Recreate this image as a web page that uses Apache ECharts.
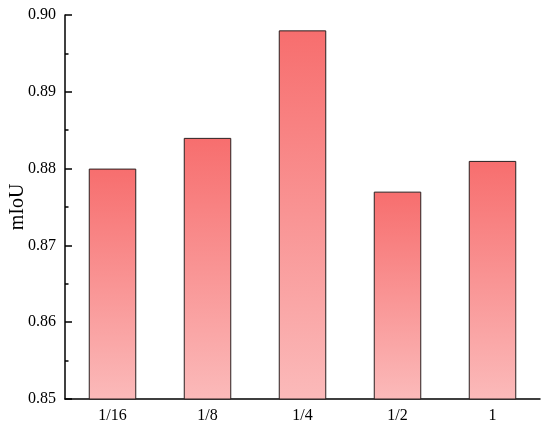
<!DOCTYPE html>
<html><head><meta charset="utf-8">
<script src="https://cdn.jsdelivr.net/npm/echarts@6/dist/echarts.min.js"></script>
<style>html,body{margin:0;padding:0;background:#fff}#c{width:550px;height:430px}</style>
</head><body><div id="c"></div>
<script>
const categories = ['1/16', '1/8', '1/4', '1/2', '1'];
const mIoU = [0.880, 0.884, 0.898, 0.877, 0.881];
const yTicks = [0.85, 0.86, 0.87, 0.88, 0.89, 0.90];

const chart = echarts.init(document.getElementById('c'), null, {renderer: 'canvas'});
const font = '"Liberation Serif", "Times New Roman", serif';
const yMin = yTicks[0], yMax = yTicks[yTicks.length - 1];
chart.setOption({
  animation: false,
  grid: {left: 65, right: 10, top: 15, bottom: 31, containLabel: false, outerBoundsMode: 'none'},
  xAxis: {
    type: 'category',
    data: categories,
    axisLine: {lineStyle: {color: '#000', width: 1.5}},
    axisTick: {show: false},
    axisLabel: {color: '#000', fontFamily: font, fontSize: 16, margin: 9}
  },
  yAxis: [{
    type: 'value',
    min: yMin, max: yMax, interval: 0.01,
    name: 'mIoU', nameLocation: 'middle', nameGap: 37, nameMoveOverlap: false,
    nameTextStyle: {color: '#000', fontFamily: font, fontSize: 20},
    axisLine: {show: true, lineStyle: {color: '#000', width: 1.5}},
    axisTick: {show: true, inside: true, length: 7, lineStyle: {color: '#000', width: 1.5}},
    splitLine: {show: false},
    axisLabel: {color: '#000', fontFamily: font, fontSize: 16, margin: 9,
      formatter: v => v.toFixed(2)}
  }, {
    type: 'value', position: 'left',
    min: yMin, max: yMax, interval: 0.005,
    axisLine: {show: false},
    axisTick: {show: true, inside: true, length: 3.5, lineStyle: {color: '#000', width: 1.5}},
    splitLine: {show: false},
    axisLabel: {show: false}
  }],
  series: [{
    type: 'bar',
    data: mIoU,
    barWidth: '50%',
    itemStyle: {
      borderColor: '#2a2020', borderWidth: 1,
      color: new echarts.graphic.LinearGradient(0, 0, 0, 1, [
        {offset: 0, color: '#f76e6e'},
        {offset: 1, color: '#fbbaba'}
      ])
    }
  }]
});
</script></body></html>
